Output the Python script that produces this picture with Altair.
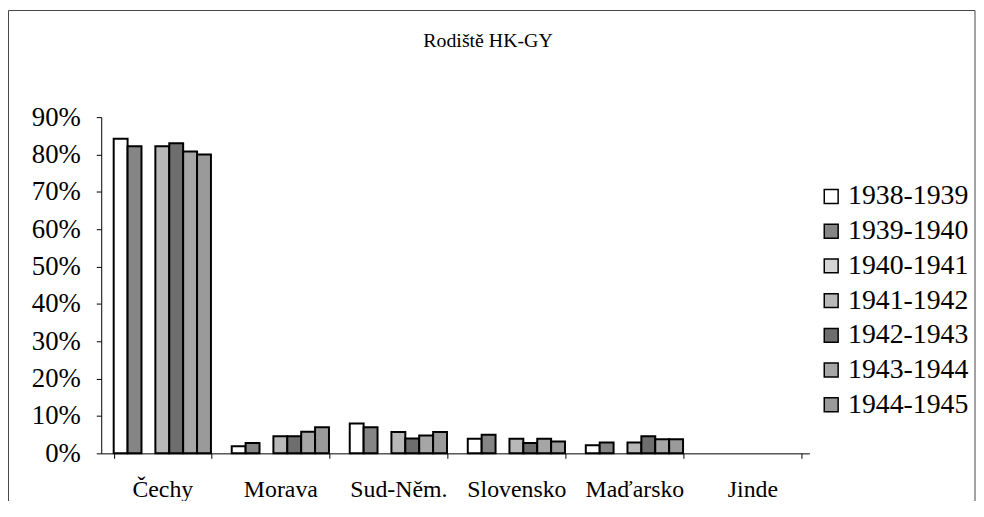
import altair as alt
import pandas as pd

categories = ["Čechy", "Morava", "Sud-Něm.", "Slovensko", "Maďarsko", "Jinde"]
series = ["1938-1939", "1939-1940", "1940-1941", "1941-1942",
          "1942-1943", "1943-1944", "1944-1945"]

# percent values per series (None = no bar drawn)
v_1938 = [84.2, 1.9, 8.0, 3.9, 2.2, None]
v_1939 = [82.2, 2.8, 7.0, 5.0, 2.9, None]
v_1940 = [None, None, None, None, None, None]
v_1941 = [82.2, 4.6, 5.7, 3.9, 2.9, None]
v_1942 = [83.0, 4.6, 4.0, 2.8, 4.6, None]
v_1943 = [80.8, 5.8, 4.8, 3.9, 3.8, None]
v_1944 = [80.0, 7.0, 5.7, 3.2, 3.8, None]

all_vals = [v_1938, v_1939, v_1940, v_1941, v_1942, v_1943, v_1944]
rows = []
for s, vals in zip(series, all_vals):
    for c, v in zip(categories, vals):
        rows.append({"region": c, "year": s, "pct": v})
df = pd.DataFrame(rows)

fills = ["#ffffff", "#858585", "#d6d6d6", "#b8b8b8", "#6e6e6e", "#a6a6a6", "#9a9a9a"]
serif = "Liberation Serif"

bars = alt.Chart(df).mark_bar(stroke="black", strokeWidth=2).encode(
    x=alt.X("region:N", sort=categories,
            scale=alt.Scale(paddingInner=0.176, paddingOuter=0.088, align=0.6),
            axis=alt.Axis(title=None, labelAngle=0, tickBand="extent",
                          labelFont=serif, labelFontSize=24, labelColor="black",
                          labelPadding=19, tickSize=5, tickColor="black",
                          domainColor="black", grid=False)),
    xOffset=alt.XOffset("year:N", sort=series,
                        scale=alt.Scale(domain=series, paddingInner=0, paddingOuter=0)),
    y=alt.Y("pct:Q", scale=alt.Scale(domain=[0, 90]),
            axis=alt.Axis(title=None, values=list(range(0, 100, 10)),
                          labelExpr="datum.value + '%'",
                          labelFont=serif, labelFontSize=27, labelColor="black",
                          labelPadding=16, tickSize=5, tickColor="black",
                          domainColor="black", grid=False)),
    fill=alt.Fill("year:N", sort=series,
                  scale=alt.Scale(domain=series, range=fills),
                  legend=alt.Legend(title=None, orient="none", legendX=722, legendY=66,
                                    symbolType="square", symbolSize=196,
                                    symbolStrokeColor="black", symbolStrokeWidth=1.5,
                                    labelFont=serif, labelFontSize=28, labelColor="black",
                                    rowPadding=7, labelOffset=3, padding=0)),
)

frame = alt.Chart(pd.DataFrame({"a": [0]})).mark_rect(
    fillOpacity=0, stroke="#444444", strokeWidth=1
).encode(
    x=alt.value(-93.5), x2=alt.value(881), y=alt.value(-107.5), y2=alt.value(430)
)

chart = alt.layer(frame, bars).properties(
    width=714, height=339,
    title=alt.Title("Rodiště HK-GY", font=serif, fontSize=20, fontWeight="normal",
                    color="black", anchor="middle", dx=33, offset=-57,
                    baseline="alphabetic"),
    autosize=alt.AutoSizeParams(type="none"),
    padding={"left": 94, "top": 108, "right": 168, "bottom": 46},
).configure_view(stroke=None)

chart.save("out.html", embed_options={"renderer": "svg", "actions": False})
